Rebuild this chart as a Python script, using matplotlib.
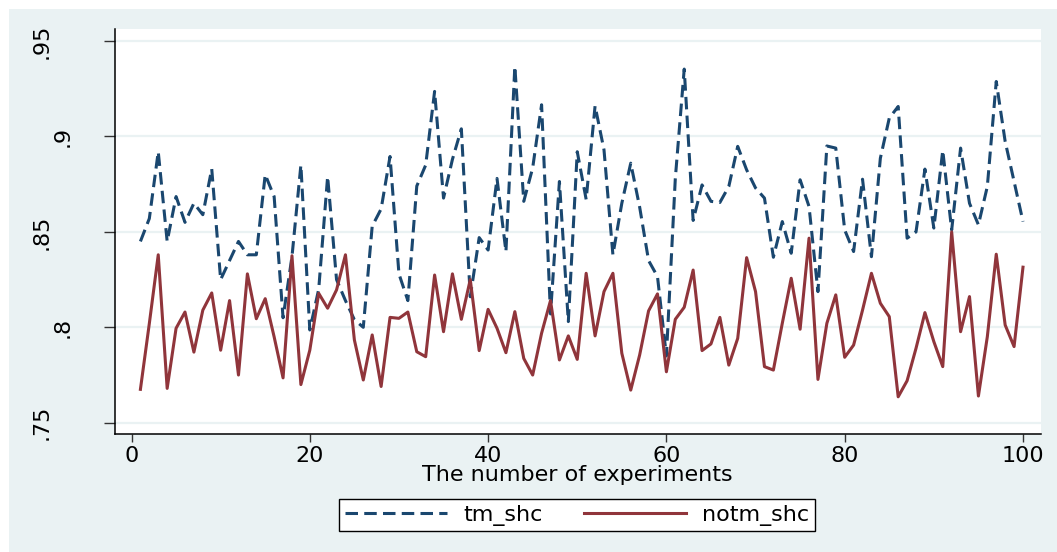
import matplotlib
matplotlib.use("Agg")
import matplotlib.pyplot as plt
import matplotlib.transforms as mtransforms
import numpy as np

experiments = list(range(1, 101))

tm_shc = [0.845, 0.857, 0.892, 0.845, 0.8685, 0.855, 0.865, 0.859, 0.883, 0.825,
          0.835, 0.845, 0.838, 0.838, 0.880, 0.8685, 0.805, 0.837, 0.885, 0.7986,
          0.820, 0.879, 0.825, 0.814, 0.804, 0.800, 0.853, 0.862, 0.8895, 0.828,
          0.814, 0.874, 0.885, 0.9236, 0.8677, 0.888, 0.904, 0.816, 0.847, 0.8405,
          0.878, 0.8397, 0.9367, 0.866, 0.8835, 0.9166, 0.807, 0.8764, 0.803, 0.892,
          0.867, 0.916, 0.893, 0.838, 0.865, 0.886, 0.863, 0.835, 0.8266, 0.785,
          0.878, 0.9353, 0.856, 0.8746, 0.866, 0.8654, 0.8738, 0.8948, 0.8825, 0.873,
          0.8677, 0.8367, 0.8554, 0.8388, 0.8773, 0.8633, 0.8187, 0.895, 0.8939, 0.851,
          0.8397, 0.8776, 0.837, 0.8886, 0.9096, 0.9157, 0.8467, 0.850, 0.8829, 0.852,
          0.8927, 0.851, 0.8939, 0.865, 0.8537, 0.8738, 0.9288, 0.8974, 0.8764, 0.8554]

notm_shc = [0.7675, 0.802, 0.838, 0.768, 0.7995, 0.808, 0.787, 0.809, 0.818, 0.788,
            0.814, 0.775, 0.828, 0.8045, 0.815, 0.795, 0.7735, 0.8375, 0.770, 0.788,
            0.8178, 0.810, 0.8196, 0.838, 0.7934, 0.7724, 0.796, 0.769, 0.8052, 0.8047,
            0.808, 0.7872, 0.7846, 0.8274, 0.7977, 0.828, 0.8042, 0.825, 0.7878, 0.8094,
            0.7995, 0.7867, 0.8082, 0.7837, 0.775, 0.7969, 0.814, 0.7829, 0.7955, 0.7832,
            0.8283, 0.7955, 0.8187, 0.8283, 0.7864, 0.7671, 0.7855, 0.8086, 0.8175, 0.7767,
            0.8042, 0.8105, 0.830, 0.7878, 0.7913, 0.8052, 0.7802, 0.7942, 0.8365, 0.8187,
            0.7794, 0.7776, 0.8021, 0.8257, 0.7990, 0.8467, 0.7727, 0.8021, 0.817, 0.7843,
            0.7907, 0.809, 0.8283, 0.8126, 0.8056, 0.7636, 0.772, 0.789, 0.8077, 0.7925,
            0.7794, 0.850, 0.7977, 0.8161, 0.764, 0.7951, 0.8383, 0.8012, 0.7899, 0.8315]

x_ticks = [0, 20, 40, 60, 80, 100]
x_ticklabels = ["0", "20", "40", "60", "80", "100"]
y_ticks = [0.75, 0.80, 0.85, 0.90, 0.95]
y_ticklabels = [".75", ".8", ".85", ".9", ".95"]
series_names = ["tm_shc", "notm_shc"]
x_title = "The number of experiments"

BLUE = "#1A476F"
RED = "#90353B"
BG = "#EAF2F3"

plt.rcParams['font.family'] = ['DejaVu Sans']
plt.rcParams['lines.scale_dashes'] = False

W, H = 1057, 552
fig = plt.figure(figsize=(W / 100, H / 100), dpi=100)
fig.patch.set_facecolor("white")
# graph region background
fig.patches.append(plt.Rectangle((9 / W, 0), 1 - 9 / W, 1 - 9 / H,
                                 transform=fig.transFigure, facecolor=BG,
                                 edgecolor="none", zorder=-10))

left, right, top, bottom = 114.5, 1041, 29, 434
ax = fig.add_axes([left / W, 1 - bottom / H, (right - left) / W, (bottom - top) / H])
ax.set_facecolor("white")

ax.plot(experiments, tm_shc, color=BLUE, lw=2.2, dashes=(9, 4.5), label=series_names[0])
ax.plot(experiments, notm_shc, color=RED, lw=2.2, label=series_names[1])

ax.set_xlim(-1.907, 102.02)
ax.set_ylim(0.7441, 0.9563)

ax.set_xticks(x_ticks)
ax.set_xticklabels(x_ticklabels, fontsize=16)
ax.set_yticks(y_ticks)
ax.set_yticklabels(y_ticklabels, fontsize=16, rotation=90, va="center", ha="right")

ax.tick_params(axis="y", direction="out", length=8, width=1, pad=22, colors="#333333",
               labelcolor="black")
ax.tick_params(axis="x", direction="out", length=6, width=1, pad=3, colors="#333333",
               labelcolor="black")

for s in ["top", "right"]:
    ax.spines[s].set_visible(False)
for s in ["left", "bottom"]:
    ax.spines[s].set_color("black")
    ax.spines[s].set_linewidth(1.1)

ax.yaxis.grid(True, color=BG, lw=1.6)
ax.set_axisbelow(True)

ax.set_xlabel(x_title, fontsize=16)
ax.xaxis.label.set_va("center")
ax.xaxis.set_label_coords(0.5, -0.101)

# shift three-character y labels further left (as in the reference)
for lab in ax.get_yticklabels():
    if len(lab.get_text()) == 3:
        lab.set_transform(lab.get_transform() +
                          mtransforms.ScaledTranslation(-21 / 100, 0, fig.dpi_scale_trans))

leg = fig.legend(loc="center", bbox_to_anchor=(577 / W, 1 - 515 / H), ncol=2,
                 fontsize=16, handlelength=4.6, handletextpad=0.72, columnspacing=1.85,
                 borderpad=0.25, fancybox=False, framealpha=1, edgecolor="black")
leg.get_frame().set_linewidth(1.0)
leg.get_frame().set_facecolor("white")

fig.savefig("out.png", dpi=100, facecolor=fig.get_facecolor())
